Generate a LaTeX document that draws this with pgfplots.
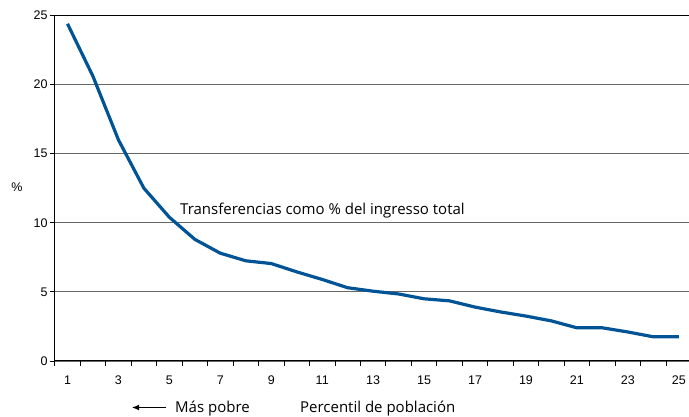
\documentclass[border=0pt]{standalone}
\usepackage{pgfplots}
\pgfplotsset{compat=1.18}
\usepackage{fontspec}
\setmainfont{Liberation Sans}
\newfontfamily\myr{Open Sans}
\usetikzlibrary{arrows.meta}
\definecolor{lineblue}{RGB}{0,84,150}
\begin{document}
\begin{tikzpicture}[x=1pt,y=1pt]
\path[use as bounding box] (0,0) rectangle (689,417);
\begin{axis}[
  at={(54pt,56pt)}, anchor=origin,
  scale only axis, width=635pt, height=345.5pt,
  xmin=0.47, xmax=25.4, ymin=0, ymax=25,
  axis x line*=bottom, axis y line*=left,
  axis line style={black, line width=1pt},
  xtick={1,3,...,25}, major x tick style={draw=none},
  minor xtick={0.5,1.5,...,24.5,25.5},
  minor x tick style={black, line width=0.8pt},
  minor tick length=5pt,
  ytick={0,5,10,15,20},
  extra y ticks={25}, extra y tick style={grid style={black, line width=1.2pt}},
  major y tick style={black, line width=0.8pt},
  major tick length=4pt,
  tick align=outside,
  ymajorgrids, grid style={gray!80!black, line width=1.2pt},
  tick label style={font=\fontsize{12.5}{14}\selectfont},
  /pgf/number format/assume math mode=true,
  xticklabel style={yshift=-7pt},
  yticklabel style={xshift=1pt},
  clip=false,
]
\addplot[lineblue, line width=3.2pt, line join=round] coordinates {
(1,24.4) (2,20.6) (3,16.0) (4,12.5) (5,10.4) (6,8.8) (7,7.8) (8,7.25) (9,7.05)
(10,6.45) (11,5.9) (12,5.3) (13,5.05) (14,4.85) (15,4.5) (16,4.35) (17,3.9)
(18,3.55) (19,3.25) (20,2.9) (21,2.4) (22,2.4) (23,2.1) (24,1.75) (25,1.75)
};
\end{axis}
\node[anchor=base west, font=\myr\fontsize{15}{17}\selectfont, inner sep=0pt] at (180,202) {Transferencias como \% del ingresso total};
\node[font=\fontsize{12.5}{14}\selectfont] at (17,230) {\%};
\draw[-{Latex[length=7pt,width=6pt]}, line width=1.2pt] (166,9.5) -- (132,9.5);
\node[anchor=base west, font=\myr\fontsize{15}{17}\selectfont, inner sep=0pt] at (175,4.5) {Más pobre};
\node[anchor=base west, font=\myr\fontsize{15}{17}\selectfont, inner sep=0pt] at (300,4.5) {Percentil de población};
\end{tikzpicture}
\end{document}
